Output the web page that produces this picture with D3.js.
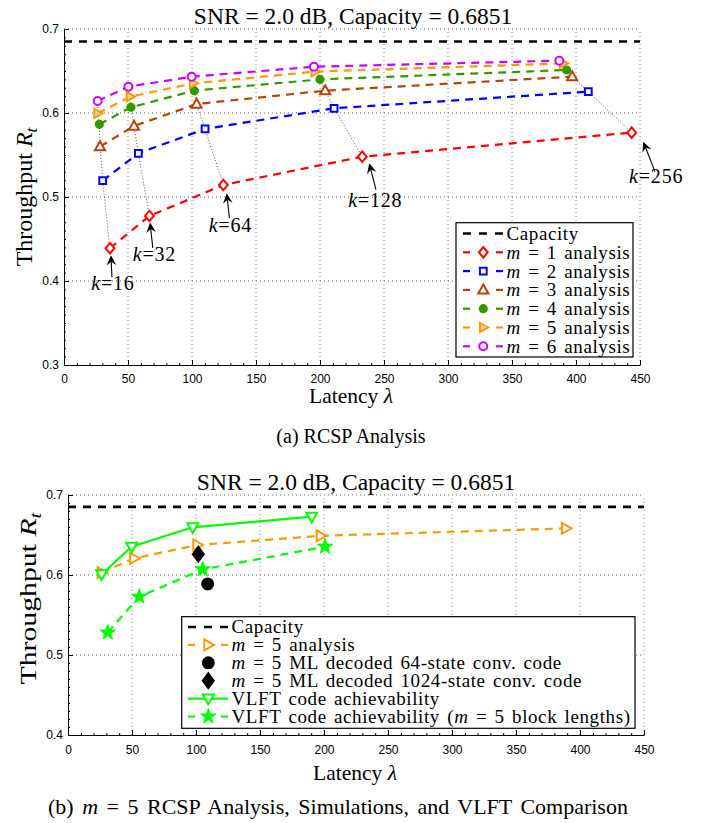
<!DOCTYPE html>
<html><head><meta charset="utf-8">
<script src="https://cdn.jsdelivr.net/npm/d3@7"></script>
<style>body{margin:0;background:#fff}svg{display:block}</style>
</head><body>
<svg id="c" width="709" height="823"></svg>
<script>
// ---------------- DATA ----------------
const capacity = 0.6851;
const titleText = "SNR = 2.0 dB, Capacity = 0.6851";
const kValues = [16, 32, 64, 128, 256];
const xTicks = [0, 50, 100, 150, 200, 250, 300, 350, 400, 450];
const yTicksTop = [0.3, 0.4, 0.5, 0.6, 0.7];
const yTicksBot = [0.4, 0.5, 0.6, 0.7];

// Panel (a): RCSP analysis, latency / throughput per m
const latM1 = [35.9, 66.7, 124.5, 233.0, 443.5];
const thrM1 = [0.439, 0.4774, 0.5143, 0.548, 0.5766];
const latM2 = [30.2, 58.1, 110.2, 211.0, 409.6];
const thrM2 = [0.5194, 0.552, 0.581, 0.6056, 0.6254];
const latM3 = [28.1, 54.7, 103.6, 204.0, 397.0];
const thrM3 = [0.560, 0.5845, 0.6107, 0.6266, 0.6433];
const latM4 = [27.6, 52.3, 101.8, 200.0, 392.7];
const thrM4 = [0.5865, 0.6068, 0.6266, 0.640, 0.6512];
const latM5 = [26.3, 51.6, 101.0, 196.0, 390.0];
const thrM5 = [0.5996, 0.6194, 0.6353, 0.6492, 0.659];
const latM6 = [26.3, 50.3, 99.7, 195.3, 387.0];
const thrM6 = [0.6143, 0.6313, 0.6432, 0.6551, 0.6623];

// Panel (b)
const latB5 = [26.3, 51.6, 101.0, 197.4, 389.0];
const thrB5 = [0.6029, 0.6208, 0.6375, 0.649, 0.6583];
const latVLFT = [26.3, 49.7, 97.4, 190.4];
const thrVLFT = [0.601, 0.6354, 0.6596, 0.6729];
const latVLFT5 = [31.0, 55.7, 105.2, 200.8];
const thrVLFT5 = [0.528, 0.5729, 0.607, 0.6354];
const latML64 = [109.1];
const thrML64 = [0.5888];
const latML1024 = [101.8];
const thrML1024 = [0.626];

// ---------------- STYLE / LAYOUT ----------------
const serif = "'Liberation Serif','Times New Roman',serif";
const sans = "'Liberation Sans',Arial,sans-serif";
const topSeries = [
  {m: 1, lat: latM1, thr: thrM1, color: "#ff0000", shape: "diamond", size: 4.4, fill: "#fff"},
  {m: 2, lat: latM2, thr: thrM2, color: "#0000ff", shape: "square", size: 3.4, fill: "#fff"},
  {m: 3, lat: latM3, thr: thrM3, color: "#b8420c", shape: "triUp", size: 4.6, fill: "#fff"},
  {m: 4, lat: latM4, thr: thrM4, color: "#339900", shape: "circle", size: 3.6, fill: "#339900"},
  {m: 5, lat: latM5, thr: thrM5, color: "#ff9900", shape: "triRight", size: 4.2, fill: "#ffd9a0"},
  {m: 6, lat: latM6, thr: thrM6, color: "#cc00ff", shape: "circle", size: 4.0, fill: "#fff"}
];
// annotation offsets (pixels) relative to the m=1 marker: tip, tail, label
const annot = [
  {tip: [1, 7], tail: [2, 29], lab: [3, 42]},
  {tip: [0.7, 6.5], tail: [3.4, 32], lab: [5, 45]},
  {tip: [3.4, 8.3], tail: [6, 33], lab: [7, 47.5]},
  {tip: [7, 6.6], tail: [13.7, 33], lab: [13, 50.5]},
  {tip: [11.6, 9], tail: [23.3, 39], lab: [24.5, 50]}
];

const svg = d3.select("#c");
svg.append("rect").attr("width", 709).attr("height", 823).attr("fill", "#fff");

const shapes = {
  diamond: s => `M0,${-s*1.2}L${s},0L0,${s*1.2}L${-s},0Z`,
  square: s => `M${-s},${-s}h${2*s}v${2*s}h${-2*s}Z`,
  triUp: s => `M0,${-s*1.15}L${s*1.1},${s*0.8}L${-s*1.1},${s*0.8}Z`,
  triRight: s => `M${s*1.15},0L${-s*0.8},${-s*1.1}L${-s*0.8},${s*1.1}Z`,
  triDown: s => `M0,${s*1.15}L${s*1.1},${-s*0.8}L${-s*1.1},${-s*0.8}Z`,
  star: s => {
    let p = "";
    for (let i = 0; i < 10; i++) {
      const r = i % 2 === 0 ? s : s * 0.4;
      const a = -Math.PI / 2 + i * Math.PI / 5;
      p += (i ? "L" : "M") + (r * Math.cos(a)).toFixed(2) + "," + (r * Math.sin(a)).toFixed(2);
    }
    return p + "Z";
  },
  bigDiamond: s => `M0,${-s*1.35}L${s},0L0,${s*1.35}L${-s},0Z`
};
function marker(g, shape, cx, cy, color, size, fill, sw) {
  if (shape === "circle") {
    return g.append("circle").attr("cx", cx).attr("cy", cy).attr("r", size)
      .attr("fill", fill).attr("stroke", color).attr("stroke-width", sw);
  }
  return g.append("path").attr("d", shapes[shape](size))
    .attr("transform", `translate(${cx},${cy})`)
    .attr("fill", fill).attr("stroke", color).attr("stroke-width", sw)
    .attr("stroke-linejoin", "miter");
}

function axesPanel(cfg) {
  const x = d3.scaleLinear().domain([0, 450]).range(cfg.xr);
  const y = d3.scaleLinear().domain(cfg.yd).range(cfg.yr);
  const g = svg.append("g");
  // grid
  g.append("g").selectAll("line").data(xTicks.slice(1)).join("line")
    .attr("x1", d => x(d)).attr("x2", d => x(d))
    .attr("y1", cfg.yr[0]).attr("y2", cfg.yr[1])
    .attr("stroke", "#888").attr("stroke-width", 1).attr("stroke-dasharray", "1,3");
  g.append("g").selectAll("line").data(cfg.yt.slice(1)).join("line")
    .attr("y1", d => y(d)).attr("y2", d => y(d))
    .attr("x1", cfg.xr[0]).attr("x2", cfg.xr[1])
    .attr("stroke", "#666").attr("stroke-width", 1).attr("stroke-dasharray", "1,3");
  // minor ticks
  g.append("g").attr("transform", `translate(0,${cfg.yr[0]})`)
    .call(d3.axisBottom(x).tickValues(d3.range(0, 451, 10)).tickSize(-2).tickFormat("").tickSizeOuter(0))
    .call(s => s.select(".domain").remove());
  g.append("g").attr("transform", `translate(${cfg.xr[0]},0)`)
    .call(d3.axisLeft(y).tickValues(d3.range(cfg.yd[0], cfg.yd[1] + 1e-9, 0.01)).tickSize(-2).tickFormat("").tickSizeOuter(0))
    .call(s => s.select(".domain").remove());
  // major axes
  const xa = g.append("g").attr("transform", `translate(0,${cfg.yr[0]})`)
    .call(d3.axisBottom(x).tickValues(xTicks).tickSizeInner(-5).tickSizeOuter(0).tickPadding(cfg.xPad).tickFormat(d3.format("d")));
  const ya = g.append("g").attr("transform", `translate(${cfg.xr[0]},0)`)
    .call(d3.axisLeft(y).tickValues(cfg.yt).tickSizeInner(-5).tickSizeOuter(0).tickPadding(5).tickFormat(d3.format(".1f")));
  [xa, ya].forEach(a => {
    a.selectAll("text").attr("font-family", sans).attr("font-size", 12).attr("fill", "#000");
    a.select(".domain").attr("stroke", "#000").attr("stroke-width", 1);
    a.selectAll(".tick line").attr("stroke", "#000");
  });
  // title
  svg.append("text").attr("x", cfg.titleX).attr("y", cfg.titleY).attr("text-anchor", "middle")
    .attr("font-family", serif).attr("font-size", 23.5).text(titleText);
  // x label
  const xl = svg.append("text").attr("x", cfg.xlX).attr("y", cfg.xlY).attr("text-anchor", "middle")
    .attr("font-family", serif).attr("font-size", 21.5);
  xl.append("tspan").text("Latency ");
  xl.append("tspan").attr("font-style", "italic").text("λ");
  // y label
  const yl = svg.append("text")
    .attr("transform", `translate(${cfg.ylX},${cfg.ylY}) rotate(-90) scale(${cfg.ylScale},1)`)
    .attr("text-anchor", "middle").attr("font-family", serif).attr("font-size", 24);
  yl.append("tspan").text("Throughput ");
  yl.append("tspan").attr("font-style", "italic").text("R");
  yl.append("tspan").attr("font-style", "italic").attr("font-size", 17).attr("dy", 5).text("t");
  // capacity
  g.append("line").attr("x1", x(0)).attr("x2", x(450)).attr("y1", y(capacity)).attr("y2", y(capacity))
    .attr("stroke", "#000").attr("stroke-width", 2.6).attr("stroke-dasharray", "8,7");
  return {x, y, g};
}
const legendFont = g => g.attr("font-family", serif).attr("font-size", 19)
  .attr("letter-spacing", 0.6).attr("word-spacing", 2);

// ---------------- PANEL (a) ----------------
const A = axesPanel({xr: [64, 640], yr: [365, 29], yd: [0.3, 0.7], yt: yTicksTop, xPad: 9,
  titleX: 353, titleY: 23.5, xlX: 351, xlY: 403, ylX: 32, ylY: 197, ylScale: 1});
{
  const {x, y, g} = A;
  // dotted connectors for equal k
  kValues.forEach((k, i) => {
    const pts = topSeries.slice().reverse().map(s => [x(s.lat[i]), y(s.thr[i])]);
    g.append("path").attr("d", d3.line()(pts)).attr("fill", "none")
      .attr("stroke", "#555").attr("stroke-width", 1).attr("stroke-dasharray", "1,2");
  });
  // series lines
  topSeries.forEach(s => {
    const pts = s.lat.map((v, i) => [x(v), y(s.thr[i])]);
    g.append("path").attr("d", d3.line()(pts)).attr("fill", "none")
      .attr("stroke", s.color).attr("stroke-width", 2.2).attr("stroke-dasharray", "8,6");
  });
  topSeries.forEach(s => {
    s.lat.forEach((v, i) => marker(g, s.shape, x(v), y(s.thr[i]), s.color, s.size, s.fill, 2));
  });
  // annotations
  kValues.forEach((k, i) => {
    const px = x(latM1[i]), py = y(thrM1[i]);
    const a = annot[i];
    const tip = [px + a.tip[0], py + a.tip[1]], tail = [px + a.tail[0], py + a.tail[1]];
    const dx = tip[0] - tail[0], dy = tip[1] - tail[1], L = Math.hypot(dx, dy);
    const ux = dx / L, uy = dy / L, nx = -uy, ny = ux;
    const hl = 10, hw = 4.8, notch = 6.5;
    const b = [tip[0] - ux * hl, tip[1] - uy * hl];
    const nb = [tip[0] - ux * notch, tip[1] - uy * notch];
    g.append("line").attr("x1", tail[0]).attr("y1", tail[1]).attr("x2", nb[0]).attr("y2", nb[1])
      .attr("stroke", "#000").attr("stroke-width", 1.1);
    g.append("path").attr("d", `M${tip[0]},${tip[1]}L${b[0] + nx * hw},${b[1] + ny * hw}L${nb[0]},${nb[1]}L${b[0] - nx * hw},${b[1] - ny * hw}Z`)
      .attr("fill", "#000");
    const t = g.append("text").attr("x", px + a.lab[0]).attr("y", py + a.lab[1])
      .attr("text-anchor", "middle").attr("font-family", serif).attr("font-size", 20)
      .attr("letter-spacing", 0.8);
    t.append("tspan").attr("font-style", "italic").text("k");
    t.append("tspan").text("=" + k);
  });
  // legend
  const lg = svg.append("g");
  lg.append("rect").attr("x", 456).attr("y", 222.7).attr("width", 177).attr("height", 134.3)
    .attr("fill", "#fff").attr("stroke", "#000").attr("stroke-width", 1.2);
  const rowY = i => 233.5 + i * 18.8;
  lg.append("line").attr("x1", 463).attr("x2", 503).attr("y1", rowY(0)).attr("y2", rowY(0))
    .attr("stroke", "#000").attr("stroke-width", 2.6).attr("stroke-dasharray", "8,8");
  legendFont(lg.append("text").attr("x", 506.5).attr("y", rowY(0)).attr("dy", "0.34em")).text("Capacity");
  topSeries.forEach((s, i) => {
    const yy = rowY(i + 1);
    [[463, 470], [496, 503]].forEach(([a, b]) => lg.append("line").attr("x1", a).attr("x2", b)
      .attr("y1", yy).attr("y2", yy).attr("stroke", s.color).attr("stroke-width", 2.2));
    marker(lg, s.shape, 483.3, yy, s.color, s.size, s.fill, 2);
    const t = legendFont(lg.append("text").attr("x", 506.5).attr("y", yy).attr("dy", "0.34em"));
    t.append("tspan").attr("font-style", "italic").text("m");
    t.append("tspan").text(" = " + s.m + " analysis");
  });
}
// caption (a)
svg.append("text").attr("x", 351).attr("y", 443).attr("text-anchor", "middle")
  .attr("font-family", serif).attr("font-size", 20).text("(a) RCSP Analysis");

// ---------------- PANEL (b) ----------------
const B = axesPanel({xr: [68, 644], yr: [735, 495], yd: [0.4, 0.7], yt: yTicksBot, xPad: 10,
  titleX: 356, titleY: 489.5, xlX: 355, xlY: 780, ylX: 36, ylY: 598.5, ylScale: 1.24});
const botSeries = [
  {lat: latB5, thr: thrB5, color: "#ff9900", shape: "triRight", size: 5, fill: "#fff", line: "dash"},
  {lat: latML64, thr: thrML64, color: "#000", shape: "circle", size: 5.5, fill: "#000", line: "none"},
  {lat: latML1024, thr: thrML1024, color: "#000", shape: "bigDiamond", size: 5.5, fill: "#000", line: "none"},
  {lat: latVLFT, thr: thrVLFT, color: "#00ff00", shape: "triDown", size: 5, fill: "#fff", line: "solid"},
  {lat: latVLFT5, thr: thrVLFT5, color: "#00ff00", shape: "star", size: 8, fill: "#00ff00", line: "dash"}
];
const botLabels = [
  ["", "Capacity"],
  ["m", " = 5 analysis"],
  ["m", " = 5 ML decoded 64-state conv. code"],
  ["m", " = 5 ML decoded 1024-state conv. code"],
  ["", "VLFT code achievability"],
  ["", "VLFT code achievability (", "m", " = 5 block lengths)"]
];
{
  const {x, y, g} = B;
  botSeries.forEach(s => {
    if (s.line === "none") return;
    const pts = s.lat.map((v, i) => [x(v), y(s.thr[i])]);
    g.append("path").attr("d", d3.line()(pts)).attr("fill", "none")
      .attr("stroke", s.color).attr("stroke-width", 2.2)
      .attr("stroke-dasharray", s.line === "dash" ? "8,6" : null);
  });
  botSeries.forEach(s => {
    s.lat.forEach((v, i) => marker(g, s.shape, x(v), y(s.thr[i]), s.color, s.size, s.fill, s.shape === "star" ? 1 : 2));
  });
  const lg = svg.append("g");
  lg.append("rect").attr("x", 181.7).attr("y", 616.7).attr("width", 453.3).attr("height", 111.6)
    .attr("fill", "#fff").attr("stroke", "#000").attr("stroke-width", 1.2);
  const rowY = i => 627 + i * 17.9;
  lg.append("line").attr("x1", 188).attr("x2", 228).attr("y1", rowY(0)).attr("y2", rowY(0))
    .attr("stroke", "#000").attr("stroke-width", 2.6).attr("stroke-dasharray", "8,8");
  botSeries.forEach((s, i) => {
    const yy = rowY(i + 1);
    if (s.line === "dash") {
      [[188, 195], [221, 228]].forEach(([a, b]) => lg.append("line").attr("x1", a).attr("x2", b)
        .attr("y1", yy).attr("y2", yy).attr("stroke", s.color).attr("stroke-width", 2.2));
    } else if (s.line === "solid") {
      lg.append("line").attr("x1", 188).attr("x2", 228).attr("y1", yy).attr("y2", yy)
        .attr("stroke", s.color).attr("stroke-width", 2.2);
    }
    marker(lg, s.shape, 208.3, yy, s.color, s.size, s.fill, s.shape === "star" ? 1 : 2);
  });
  botLabels.forEach((parts, i) => {
    const t = legendFont(lg.append("text").attr("x", 231.5).attr("y", rowY(i)).attr("dy", "0.34em"));
    parts.forEach(p => {
      if (p === "") return;
      const ts = t.append("tspan").text(p);
      if (p === "m") ts.attr("font-style", "italic");
    });
  });
}
// caption (b)
{
  const t = svg.append("text").attr("x", 338).attr("y", 814).attr("text-anchor", "middle")
    .attr("font-family", serif).attr("font-size", 22).attr("word-spacing", 3);
  t.append("tspan").text("(b) ");
  t.append("tspan").attr("font-style", "italic").text("m");
  t.append("tspan").text(" = 5 RCSP Analysis, Simulations, and VLFT Comparison");
}
</script>
</body></html>
